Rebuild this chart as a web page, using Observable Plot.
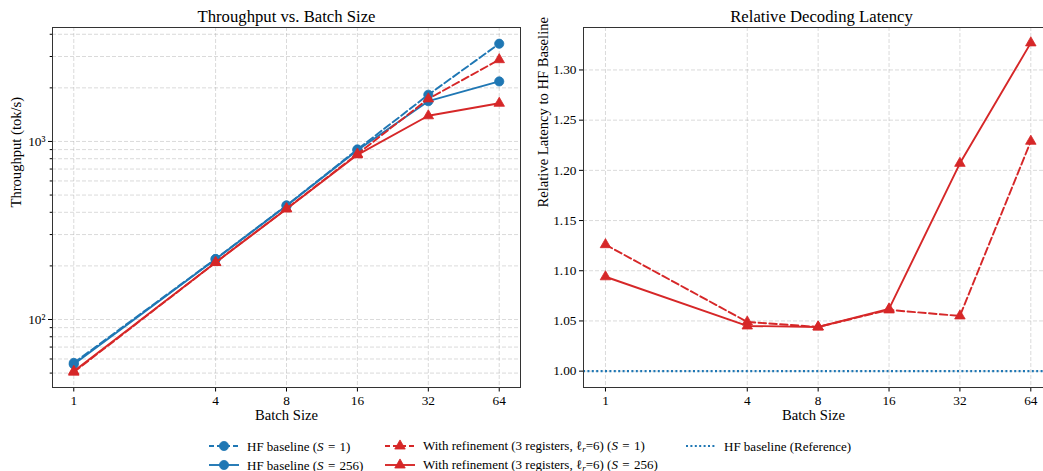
<!DOCTYPE html>
<html>
<head>
<meta charset="utf-8">
<script src="https://cdn.jsdelivr.net/npm/d3@7"></script>
<script src="https://cdn.jsdelivr.net/npm/@observablehq/plot@0.6"></script>
<style>
  html, body { margin: 0; padding: 0; background: white; width: 1043px; height: 471px; overflow: hidden; }
  #wrap { position: relative; width: 1043px; height: 471px; font-family: 'Liberation Serif', 'DejaVu Serif', serif; }
  #left, #right { position: absolute; top: 0; }
  #left { left: 0; }
  #right { left: 530px; }
  .leg { position: absolute; display: flex; align-items: center; font-size: 13px; color: #000; white-space: nowrap; line-height: 1; }
  .leg svg { margin-right: 8px; }
  sub { font-size: 9px; vertical-align: -2px; }
</style>
</head>
<body>
<div id="wrap">
  <div id="left"></div>
  <div id="right"></div>
  <div id="legend"></div>
</div>
<script>
// ---- Data ----
const batchSizes = [1, 4, 8, 16, 32, 64];
const hfS1      = [57, 219, 437, 902, 1830, 3540];
const hfS256    = [56, 218, 436, 893, 1683, 2173];
const refS1     = [50.6, 209, 419, 850, 1735, 2880];
const refS256   = [51.2, 209, 418, 841, 1394, 1639];
const relS1     = [1.126, 1.049, 1.044, 1.061, 1.055, 1.229];
const relS256   = [1.094, 1.045, 1.044, 1.062, 1.207, 1.327];
const refLevel  = [1.0];
const leftMajorY = [100, 1000];
const leftMinorY = [50, 60, 70, 80, 90, 200, 300, 400, 500, 600, 700, 800, 900, 2000, 3000, 4000];
const rightTicksY = [1.00, 1.05, 1.10, 1.15, 1.20, 1.25, 1.30];

const seriesNames = [
  "HF baseline (S=1)", "HF baseline (S=256)",
  "With refinement (3 registers, ℓr=6) (S=1)", "With refinement (3 registers, ℓr=6) (S=256)"
];

const BLUE = "#1f77b4", RED = "#d62728";
const FONT = "'Liberation Serif', 'DejaVu Serif', serif";
const DASH = "7.5,3.3";
const gridStyle = {stroke: "#b0b0b0", strokeOpacity: 0.6, strokeWidth: 0.8, strokeDasharray: "4,2"};

function toRows(ys, name) { return batchSizes.map((b, i) => ({b, v: ys[i], name})); }

const leftSeries = [
  {rows: toRows(hfS1, seriesNames[0]), color: BLUE, dash: DASH, sym: "circle"},
  {rows: toRows(hfS256, seriesNames[1]), color: BLUE, dash: null, sym: "circle"},
  {rows: toRows(refS1, seriesNames[2]), color: RED, dash: DASH, sym: "triangle"},
  {rows: toRows(refS256, seriesNames[3]), color: RED, dash: null, sym: "triangle"}
];
const rightSeries = [
  {rows: toRows(relS1, seriesNames[2]), color: RED, dash: DASH, sym: "triangle"},
  {rows: toRows(relS256, seriesNames[3]), color: RED, dash: null, sym: "triangle"}
];

function seriesMarks(series) {
  const marks = [];
  for (const s of series) {
    marks.push(Plot.line(s.rows, {x: "b", y: "v", stroke: s.color, strokeWidth: 1.9, strokeDasharray: s.dash ?? undefined}));
    marks.push(Plot.dot(s.rows, {x: "b", y: "v", fill: s.color, stroke: s.color, strokeWidth: 0.8,
      symbol: s.sym, r: s.sym === "circle" ? 4.6 : 3.9}));
  }
  return marks;
}

const textStyle = (size) => ({fontSize: size, fill: "#000", fontFamily: FONT, lineAnchor: "middle"});

// ---- Left: Throughput ----
const left = Plot.plot({
  width: 530, height: 430,
  marginLeft: 52, marginRight: 10, marginTop: 27, marginBottom: 43,
  style: {fontFamily: FONT, fontSize: "13.3px", color: "#000", background: "white", overflow: "visible"},
  x: {type: "log", base: 2, domain: [2 ** -0.3, 2 ** 6.3]},
  y: {type: "log", domain: [41.5, 4366]},
  marks: [
    Plot.gridX(batchSizes, gridStyle),
    Plot.gridY(leftMinorY.concat(leftMajorY), gridStyle),
    Plot.axisX({ticks: batchSizes, tickFormat: d => String(d), tickSize: 4.5, tickPadding: 4, label: null, fontSize: 13.3}),
    Plot.axisY({ticks: leftMajorY, tickFormat: d => d === 100 ? "10²" : "10³", tickSize: 4, tickPadding: 3, label: null, fontSize: 13.3}),
    Plot.axisY({ticks: leftMinorY, tickFormat: () => "", tickSize: 2.3, label: null}),
    ...seriesMarks(leftSeries),
    Plot.frame({stroke: "#333", strokeWidth: 1}),
    Plot.text(["Throughput vs. Batch Size"], {frameAnchor: "top", dy: -11, text: d => d, ...textStyle(16.7)}),
    Plot.text(["Batch Size"], {frameAnchor: "bottom", dy: 28, text: d => d, ...textStyle(14.6)}),
    Plot.text(["Throughput (tok/s)"], {frameAnchor: "left", dx: -36, rotate: -90, text: d => d, ...textStyle(14.6)})
  ]
});
document.getElementById("left").appendChild(left);

// ---- Right: Relative latency ----
const rxDomain = [2 ** -0.31, 2 ** 6.179];
const ryDomain = [0.9837, 1.3423];
const right = Plot.plot({
  width: 513, height: 430,
  marginLeft: 53, marginRight: 0, marginTop: 27, marginBottom: 43,
  style: {fontFamily: FONT, fontSize: "13.3px", color: "#000", background: "white", overflow: "visible"},
  x: {type: "log", base: 2, domain: rxDomain},
  y: {type: "linear", domain: ryDomain},
  marks: [
    Plot.gridX(batchSizes, gridStyle),
    Plot.gridY(rightTicksY, gridStyle),
    Plot.axisX({ticks: batchSizes, tickFormat: d => String(d), tickSize: 4.5, tickPadding: 4, label: null, fontSize: 13.3}),
    Plot.axisY({ticks: rightTicksY, tickFormat: d3.format(".2f"), tickSize: 4, tickPadding: 3, label: null, fontSize: 13.3}),
    Plot.ruleY(refLevel, {stroke: BLUE, strokeWidth: 2.1, strokeDasharray: "2,2.4"}),
    ...seriesMarks(rightSeries),
    Plot.ruleY(ryDomain, {stroke: "#333", strokeWidth: 1}),
    Plot.ruleX([rxDomain[0]], {stroke: "#333", strokeWidth: 1}),
    Plot.text(["Relative Decoding Latency"], {frameAnchor: "top", dy: -11, dx: 8, text: d => d, ...textStyle(16.7)}),
    Plot.text(["Batch Size"], {frameAnchor: "bottom", dy: 28, dx: 0, text: d => d, ...textStyle(14.6)}),
    Plot.text(["Relative Latency to HF Baseline"], {frameAnchor: "left", dx: -40, rotate: -90, text: d => d, ...textStyle(14.6)})
  ]
});
document.getElementById("right").appendChild(right);

// ---- Legend ----
function handle(color, dash, sym, dotted) {
  const w = 30, h = 14, cy = 7;
  let s = `<svg width="${w}" height="${h}" viewBox="0 0 ${w} ${h}">`;
  if (dotted) {
    s += `<line x1="0" y1="${cy}" x2="${w}" y2="${cy}" stroke="${color}" stroke-width="2.1" stroke-dasharray="2,2.4"/>`;
  } else {
    s += `<line x1="0" y1="${cy}" x2="${w}" y2="${cy}" stroke="${color}" stroke-width="1.9" ${dash ? `stroke-dasharray="${dash}"` : ""}/>`;
    const sy = d3.symbol(sym === "circle" ? d3.symbolCircle : d3.symbolTriangle, sym === "circle" ? Math.PI * 4.6 * 4.6 : Math.PI * 3.9 * 3.9)();
    s += `<path transform="translate(${w / 2},${cy})" d="${sy}" fill="${color}" stroke="${color}" stroke-width="0.8"/>`;
  }
  return s + "</svg>";
}
const eq = "&#8196;=&#8196;";
const legendItems = [
  {x: 209, y: 446, h: handle(BLUE, "5,3", "circle"), t: `HF baseline (<i>S</i>${eq}1)`},
  {x: 209, y: 465, h: handle(BLUE, null, "circle"), t: `HF baseline (<i>S</i>${eq}256)`},
  {x: 385, y: 446, h: handle(RED, "5,3", "triangle"), t: `With refinement (3 registers, ℓ<sub><i>r</i></sub>=6) (<i>S</i>${eq}1)`},
  {x: 385, y: 465, h: handle(RED, null, "triangle"), t: `With refinement (3 registers, ℓ<sub><i>r</i></sub>=6) (<i>S</i>${eq}256)`},
  {x: 686, y: 446, h: handle(BLUE, null, null, true), t: "HF baseline (Reference)"}
];
const leg = document.getElementById("legend");
for (const it of legendItems) {
  const d = document.createElement("div");
  d.className = "leg";
  d.style.left = it.x + "px";
  d.style.top = (it.y - 7) + "px";
  d.style.height = "14px";
  d.innerHTML = it.h + "<span>" + it.t + "</span>";
  leg.appendChild(d);
}
</script>
</body>
</html>
